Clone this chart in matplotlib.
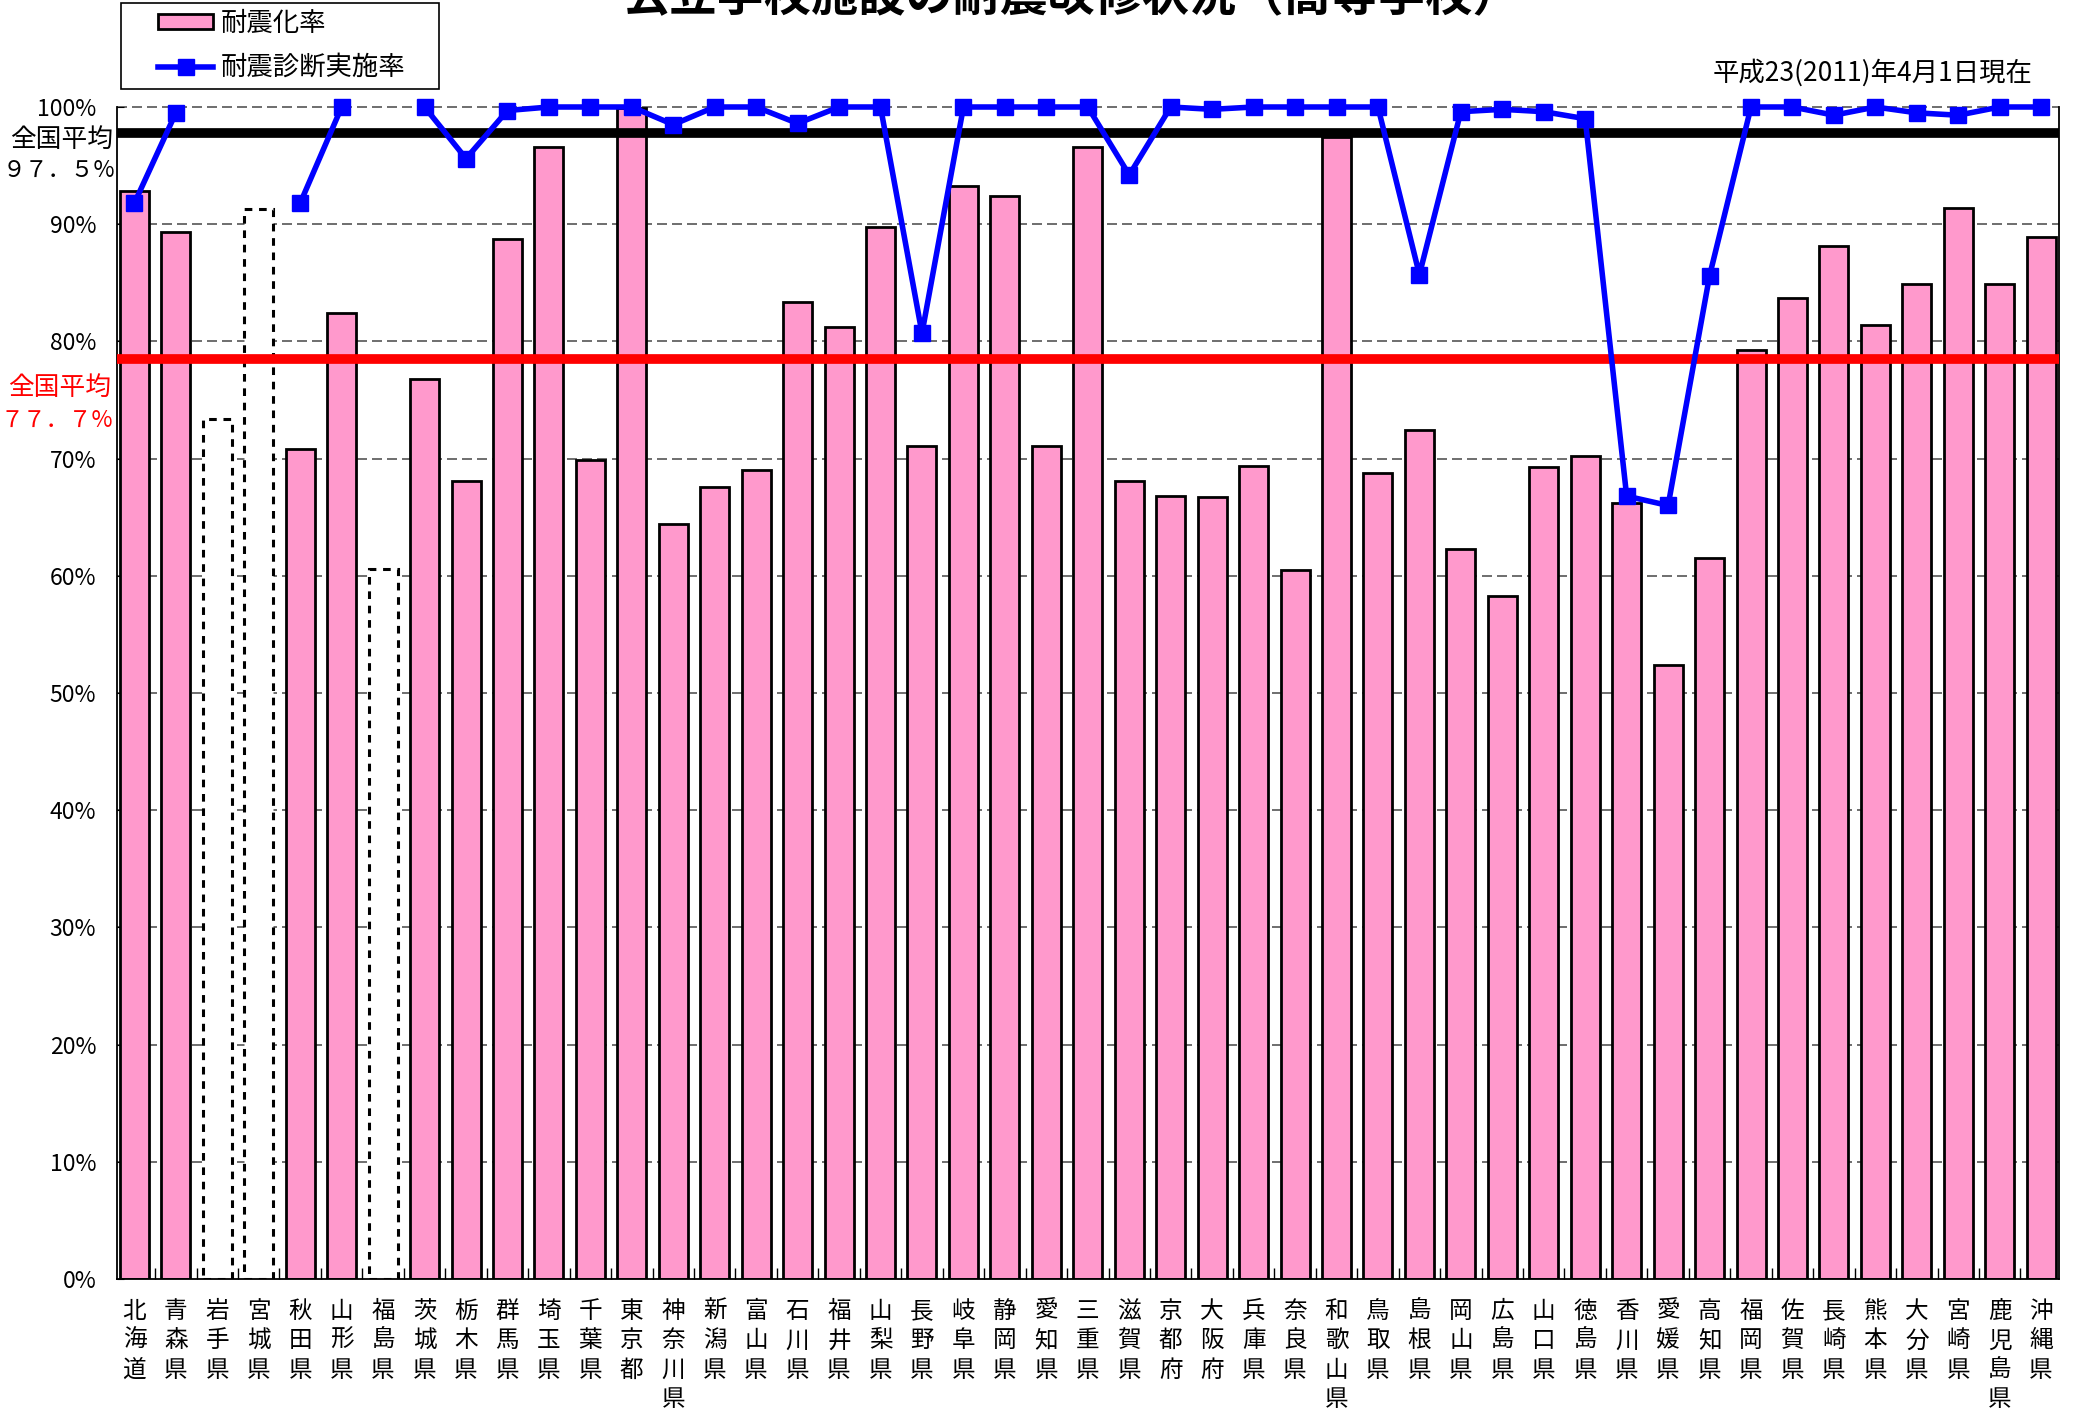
import numpy as np
import matplotlib
matplotlib.use('Agg')
import matplotlib.pyplot as plt
from matplotlib.patches import Patch, Rectangle
from matplotlib.lines import Line2D

plt.rcParams['font.family'] = ['Noto Sans CJK JP', 'DejaVu Sans']

prefectures = ['北海道', '青森県', '岩手県', '宮城県', '秋田県', '山形県', '福島県', '茨城県',
               '栃木県', '群馬県', '埼玉県', '千葉県', '東京都', '神奈川県', '新潟県', '富山県',
               '石川県', '福井県', '山梨県', '長野県', '岐阜県', '静岡県', '愛知県', '三重県',
               '滋賀県', '京都府', '大阪府', '兵庫県', '奈良県', '和歌山県', '鳥取県', '島根県',
               '岡山県', '広島県', '山口県', '徳島県', '香川県', '愛媛県', '高知県', '福岡県',
               '佐賀県', '長崎県', '熊本県', '大分県', '宮崎県', '鹿児島県', '沖縄県']

# 耐震化率 (%)
seismic_rate = [92.8, 89.3, 73.4, 91.3, 70.8, 82.4, 60.6, 76.8, 68.1, 88.7, 96.6, 69.9,
                99.9, 64.4, 67.6, 69.0, 83.4, 81.2, 89.8, 71.1, 93.3, 92.4, 71.1, 96.6,
                68.1, 66.8, 66.7, 69.4, 60.5, 97.4, 68.8, 72.4, 62.3, 58.3, 69.3, 70.2,
                66.2, 52.4, 61.5, 79.3, 83.7, 88.1, 81.4, 84.9, 91.4, 84.9, 88.9]

# 耐震診断実施率 (%), no data for 岩手・宮城・福島
nan = np.nan
diag_rate = [91.8, 99.5, nan, nan, 91.8, 100, nan, 100, 95.6, 99.7, 100, 100,
             100, 98.5, 100, 100, 98.6, 100, 100, 80.7, 100, 100, 100, 100,
             94.2, 100, 99.8, 100, 100, 100, 100, 85.7, 99.6, 99.8, 99.6, 99.0,
             66.8, 66.0, 85.6, 100, 100, 99.3, 100, 99.5, 99.3, 100, 100]

# prefectures drawn as dotted outline (previous figures)
missing = ['岩手県', '宮城県', '福島県']

# national averages: drawn position and label
avg_diag_pos, avg_diag_label = 97.8, '９７．５%'
avg_rate_pos, avg_rate_label = 78.5, '７７．７%'

W, H = 2076, 1413
fig = plt.figure(figsize=(W / 100, H / 100), dpi=100)
ax = fig.add_axes([117 / W, 1 - 1279 / H, (2059 - 117) / W, (1279 - 107) / H])

x = np.arange(len(prefectures))
pink = '#FF99CC'
for i, (p, v) in enumerate(zip(prefectures, seismic_rate)):
    if p in missing:
        ax.bar(i, v, width=0.7, facecolor='white', edgecolor='black',
               linewidth=2.2, linestyle=(0, (2.5, 2.2)), zorder=2)
    else:
        ax.bar(i, v, width=0.7, facecolor=pink, edgecolor='black',
               linewidth=2, zorder=2)

for v in range(10, 101, 10):
    ax.axhline(v, color='#555555', linestyle=(0, (6, 3)), linewidth=1.2,
               zorder=1, clip_on=False)

ax.axhline(avg_diag_pos, color='black', linewidth=7, zorder=3)
ax.axhline(avg_rate_pos, color='red', linewidth=7, zorder=3)

ax.plot(x, diag_rate, color='blue', linewidth=4, marker='s', markersize=12,
        zorder=4, clip_on=False)

ax.set_xlim(-0.42, len(prefectures) - 0.57)
ax.set_ylim(0, 100)
ax.set_yticks(range(0, 101, 10))
ax.set_yticklabels([f'{v}%' for v in range(0, 101, 10)], fontsize=16.5)
ax.set_xticks(x)
ax.set_xticklabels(['\n'.join(p) for p in prefectures], fontsize=17, linespacing=1.36)
ax.tick_params(axis='x', length=0, pad=15)
ax.tick_params(axis='y', direction='in', length=5, pad=15)
ax.set_xticks(x[:-1] + 0.5, minor=True)
ax.tick_params(axis='x', which='minor', direction='in', length=8, width=1)

ax.spines['top'].set_visible(False)
for s in ['left', 'right', 'bottom']:
    ax.spines[s].set_linewidth(1.3)

# national average labels at the left
fig.text(113 / W, 1 - 140 / H, '全国平均', ha='right', va='center', fontsize=18.5)
fig.text(115 / W, 1 - 170 / H, avg_diag_label, ha='right', va='center', fontsize=16.5)
fig.text(111 / W, 1 - 388 / H, '全国平均', ha='right', va='center', fontsize=18.5,
         color='red')
fig.text(113 / W, 1 - 420 / H, avg_rate_label, ha='right', va='center', fontsize=16.5,
         color='red')

fig.text(1072 / W, 1 + 3 / H, '公立学校施設の耐震改修状況（高等学校）', ha='center',
         va='center', fontsize=34, fontweight='bold')
fig.text(2032 / W, 1 - 73 / H, '平成23(2011)年4月1日現在', ha='right', va='center',
         fontsize=19)

# legend box
fig.patches.append(Rectangle((121 / W, 1 - 89 / H), (439 - 121) / W, 86 / H,
                             transform=fig.transFigure, facecolor='white',
                             edgecolor='black', linewidth=1.2, zorder=5))
handles = [Patch(facecolor=pink, edgecolor='black', linewidth=2),
           Line2D([], [], color='blue', linewidth=4, marker='s', markersize=12)]
leg = fig.legend(handles, ['耐震化率', '耐震診断実施率'], loc='upper left',
                 bbox_to_anchor=(158 / W, 1 - 10 / H), borderaxespad=0, borderpad=0,
                 fontsize=19, frameon=False, handlelength=2.1, handleheight=0.5,
                 labelspacing=0.65, handletextpad=0.27)
leg.set_zorder(6)

fig.savefig('out.png', dpi=100)
